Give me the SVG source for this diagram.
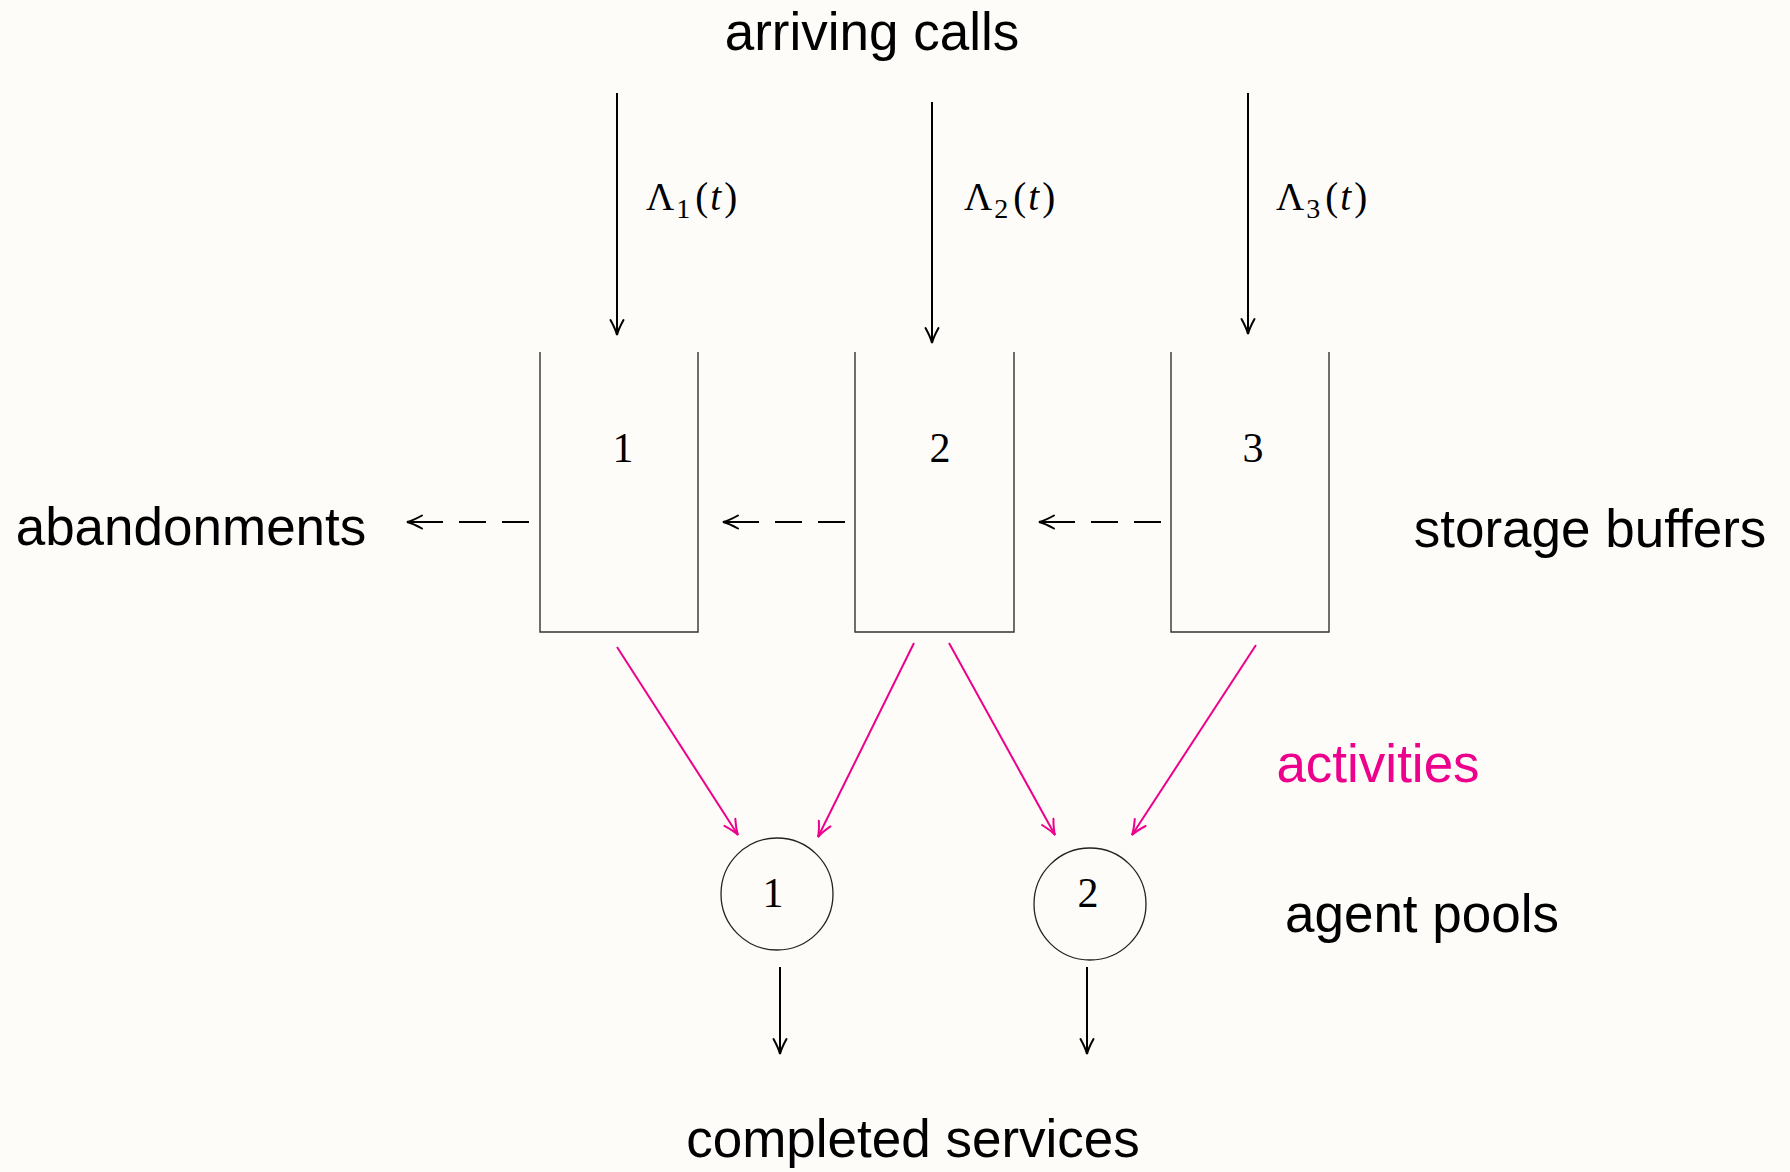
<svg xmlns="http://www.w3.org/2000/svg" width="1790" height="1172" viewBox="0 0 1790 1172">
  <defs>
    <style>
      .lbl { font-family: "Liberation Sans", Arial, sans-serif; font-size: 53px; fill: #000; }
      .act { fill: #EC008C; }
      .math { font-family: "Liberation Serif", "DejaVu Serif", serif; font-size: 39px; fill: #000; }
      .num { font-family: "Liberation Serif", "DejaVu Serif", serif; font-size: 42px; fill: #000; text-anchor: middle; }
      .buf { fill: none; stroke: #333; stroke-width: 1.4; }
      .pool { fill: none; stroke: #222; stroke-width: 1.3; }
      .flow { fill: none; stroke: #000; stroke-width: 2; marker-end: url(#head); }
      .dash { fill: none; stroke: #000; stroke-width: 2; stroke-dasharray: 27 16 27 16 40; marker-end: url(#head); }
      .route { fill: none; stroke: #EC008C; stroke-width: 2; marker-end: url(#headM); }
    </style>
    <marker id="head" markerUnits="userSpaceOnUse" viewBox="-16 -8 18 16" refX="0" refY="0" markerWidth="18" markerHeight="16" orient="auto" overflow="visible">
      <path d="M-15,-6.5 Q-6,-1.5 0,0 Q-6,1.5 -15,6.5" fill="none" stroke="#000" stroke-width="2" stroke-linecap="round"/>
    </marker>
    <marker id="headM" markerUnits="userSpaceOnUse" viewBox="-16 -8 18 16" refX="0" refY="0" markerWidth="18" markerHeight="16" orient="auto" overflow="visible">
      <path d="M-15,-6.5 Q-6,-1.5 0,0 Q-6,1.5 -15,6.5" fill="none" stroke="#EC008C" stroke-width="2" stroke-linecap="round"/>
    </marker>
  </defs>

  <rect width="1790" height="1172" fill="#FDFCF8"/>

  <!-- side labels -->
  <g id="labels">
    <text class="lbl" x="872" y="50" text-anchor="middle">arriving calls</text>
    <text class="lbl" x="191" y="545" text-anchor="middle">abandonments</text>
    <text class="lbl" x="1590" y="547" text-anchor="middle">storage buffers</text>
    <text class="lbl act" x="1378" y="782" text-anchor="middle">activities</text>
    <text class="lbl" x="1422" y="932" text-anchor="middle">agent pools</text>
    <text class="lbl" x="913" y="1157" text-anchor="middle">completed services</text>
  </g>

  <!-- arrival rates -->
  <g id="rates">
    <text class="math" x="646" y="210">Λ<tspan font-size="28" dy="8" dx="2">1</tspan><tspan dy="-8" dx="5">(</tspan><tspan font-style="italic" dx="2">t</tspan><tspan dx="3">)</tspan></text>
    <text class="math" x="964" y="210">Λ<tspan font-size="28" dy="8" dx="2">2</tspan><tspan dy="-8" dx="5">(</tspan><tspan font-style="italic" dx="2">t</tspan><tspan dx="3">)</tspan></text>
    <text class="math" x="1276" y="210">Λ<tspan font-size="28" dy="8" dx="2">3</tspan><tspan dy="-8" dx="5">(</tspan><tspan font-style="italic" dx="2">t</tspan><tspan dx="3">)</tspan></text>
  </g>

  <!-- storage buffers: open-topped containers -->
  <g id="buffer1">
    <path class="buf" d="M540,352 V632 H698 V352"/>
    <text class="num" x="623" y="462">1</text>
  </g>
  <g id="buffer2">
    <path class="buf" d="M855,352 V632 H1014 V352"/>
    <text class="num" x="940" y="462">2</text>
  </g>
  <g id="buffer3">
    <path class="buf" d="M1171,352 V632 H1329 V352"/>
    <text class="num" x="1253" y="462">3</text>
  </g>

  <!-- agent pools -->
  <g id="pool1">
    <circle class="pool" cx="777" cy="894" r="56"/>
    <text class="num" x="773" y="907">1</text>
  </g>
  <g id="pool2">
    <circle class="pool" cx="1090" cy="904" r="56"/>
    <text class="num" x="1088" y="907">2</text>
  </g>

  <!-- connectors -->
  <g id="connectors">
    <!-- arrivals -->
    <line class="flow" x1="617" y1="93" x2="617" y2="335"/>
    <line class="flow" x1="932" y1="102" x2="932" y2="343"/>
    <line class="flow" x1="1248" y1="93" x2="1248" y2="334"/>
    <!-- abandonments -->
    <line class="dash" x1="529" y1="522" x2="407" y2="522"/>
    <line class="dash" x1="845" y1="522" x2="723" y2="522"/>
    <line class="dash" x1="1161" y1="522" x2="1039" y2="522"/>
    <!-- activities -->
    <line class="route" x1="617" y1="647" x2="738" y2="835"/>
    <line class="route" x1="914" y1="643" x2="818" y2="837"/>
    <line class="route" x1="949" y1="643" x2="1055" y2="835"/>
    <line class="route" x1="1256" y1="645" x2="1132" y2="835"/>
    <!-- completed services -->
    <line class="flow" x1="780" y1="967" x2="780" y2="1054"/>
    <line class="flow" x1="1087" y1="967" x2="1087" y2="1054"/>
  </g>
</svg>
